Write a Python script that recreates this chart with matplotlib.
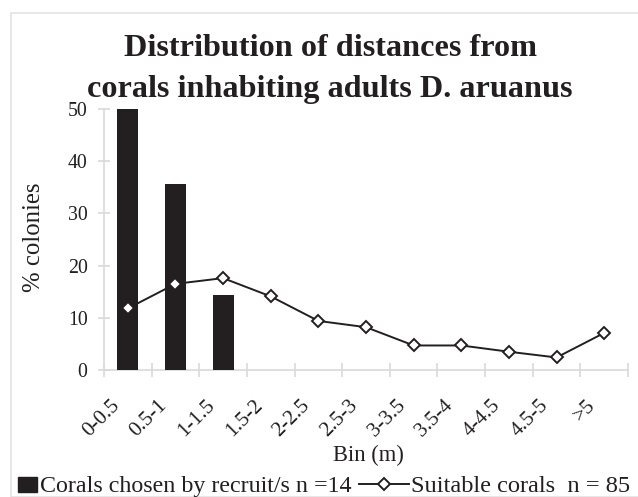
import matplotlib.pyplot as plt
from matplotlib.patches import Rectangle
from matplotlib.lines import Line2D
from matplotlib.ticker import FixedLocator
from matplotlib.transforms import ScaledTranslation

# --- DATA ---
bins = ["0-0.5", "0.5-1", "1-1.5", "1.5-2", "2-2.5", "2.5-3",
        "3-3.5", "3.5-4", "4-4.5", "4.5-5", ">5"]
chosen_pct = [50.0, 35.7, 14.3, 0, 0, 0, 0, 0, 0, 0, 0]
suitable_pct = [11.8, 16.5, 17.6, 14.1, 9.4, 8.2, 4.7, 4.7, 3.5, 2.4, 7.1]

legend_labels = ["Corals chosen by recruit/s n =14", "Suitable corals  n = 85"]

W, H = 638, 497
SERIF = "Liberation Serif"
INK = "#231f20"
GREY = "#d9d9d9"


def fx(px):
    return px / W


def fy(py):
    return 1 - py / H


fig = plt.figure(figsize=(W / 100, H / 100), dpi=100)
fig.patch.set_facecolor("white")

# light outer chart border (cropped at right and bottom)
fig.patches.append(Rectangle((fx(11), 0), 1.0, fy(13), transform=fig.transFigure,
                             fill=False, edgecolor="#e3e3e3", linewidth=1.2))

ax = fig.add_axes([fx(104), fy(370), fx(628) - fx(104), fy(109) - fy(370)])

x = list(range(len(bins)))
ax.bar(x, chosen_pct, width=0.44, color=INK, zorder=2)
ax.plot(x, suitable_pct, color=INK, linewidth=1.4, marker="D", markersize=6.2,
        markerfacecolor="white", markeredgecolor=INK, markeredgewidth=1.4, zorder=3)

ax.set_xlim(-0.5, len(bins) - 0.5)
ax.set_ylim(0, 50)

for side in ["top", "right"]:
    ax.spines[side].set_visible(False)
for side in ["left", "bottom"]:
    ax.spines[side].set_color(GREY)
    ax.spines[side].set_linewidth(1.2)
    ax.spines[side].set_zorder(1)

ax.set_yticks([0, 10, 20, 30, 40, 50])
ax.tick_params(axis="y", direction="inout", length=8.6, color=GREY, width=1.2, pad=7.5)
for lbl in ax.get_yticklabels():
    lbl.set_fontfamily(SERIF)
    lbl.set_fontsize(14.3)
    lbl.set_color(INK)

ax.set_xticks(x)
ax.set_xticklabels(bins, rotation=45, ha="right", va="center", rotation_mode="anchor",
                   fontfamily=SERIF, fontsize=15.2, color=INK)
ax.tick_params(axis="x", which="major", length=0, pad=0)
shift = ScaledTranslation(-11 / 100, -33 / 100, fig.dpi_scale_trans)
for lbl in ax.get_xticklabels():
    lbl.set_transform(lbl.get_transform() + shift)
ax.xaxis.set_minor_locator(FixedLocator([i + 0.5 for i in range(-1, len(bins))]))
ax.tick_params(axis="x", which="minor", direction="inout", length=9.4, color=GREY, width=1.2)

ax.set_ylabel("% colonies", fontfamily=SERIF, fontsize=17.8, color=INK, va="center")
ax.yaxis.set_label_coords(fx(34), fy(237), transform=fig.transFigure)
ax.set_xlabel("Bin (m)", fontfamily=SERIF, fontsize=16.3, color=INK, va="baseline")
ax.xaxis.set_label_coords(fx(368.5), fy(461), transform=fig.transFigure)

title_lines = ["Distribution of distances from", "corals inhabiting adults D. aruanus"]
for line, base in zip(title_lines, [56.5, 97]):
    fig.text(fx(330), fy(base), line, ha="center", va="baseline",
             fontfamily=SERIF, fontweight="bold", fontsize=23.2, color=INK)

# legend drawn by hand to follow the original spacing
leg_base = 492
fig.patches.append(Rectangle((fx(18), fy(492)), fx(37) - fx(18), fy(477) - fy(492),
                             transform=fig.transFigure, color=INK))
fig.text(fx(40), fy(leg_base), legend_labels[0], ha="left", va="baseline",
         fontfamily=SERIF, fontsize=17.3, color=INK)
fig.add_artist(Line2D([fx(359), fx(409)], [fy(484), fy(484)], transform=fig.transFigure,
                      color=INK, linewidth=1.4))
fig.add_artist(Line2D([fx(384)], [fy(484)], transform=fig.transFigure, marker="D",
                      markersize=6.2, markerfacecolor="white", markeredgecolor=INK,
                      markeredgewidth=1.4))
fig.text(fx(411), fy(leg_base), legend_labels[1], ha="left", va="baseline",
         fontfamily=SERIF, fontsize=17.6, color=INK)

fig.savefig("out.png", dpi=100)
